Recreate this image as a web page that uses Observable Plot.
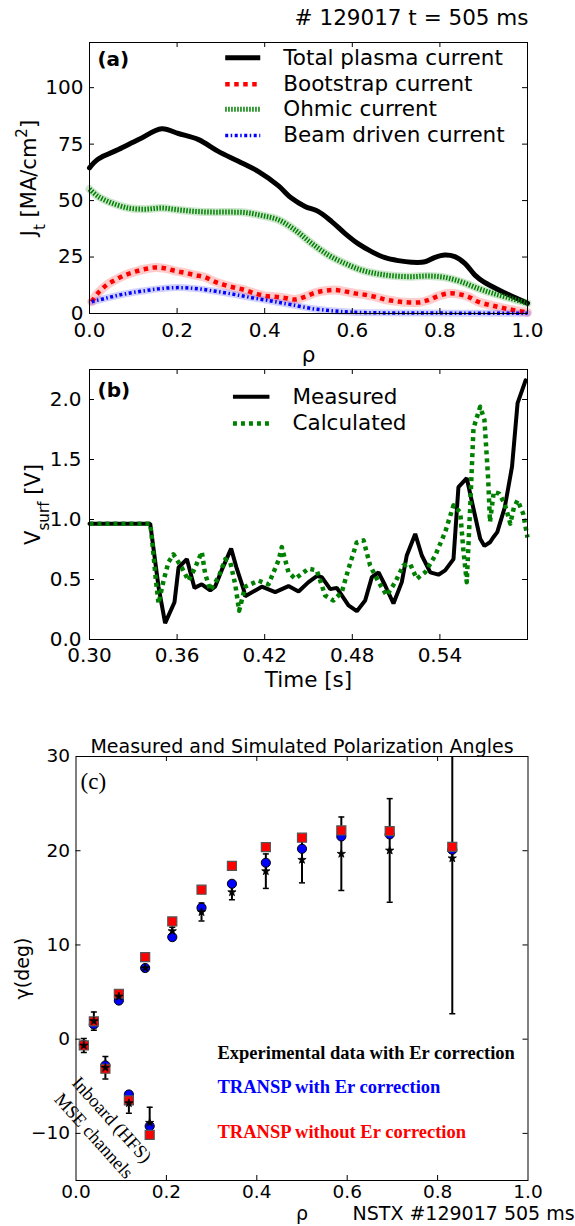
<!DOCTYPE html>
<html><head><meta charset="utf-8">
<script src="https://cdn.jsdelivr.net/npm/d3@7"></script>
<script src="https://cdn.jsdelivr.net/npm/@observablehq/plot@0.6"></script>
<style>
body{margin:0;background:#fff;}
#wrap{position:relative;width:575px;height:1226px;background:#fff;overflow:hidden;}
#wrap svg{position:absolute;left:0;}
</style></head><body><div id="wrap"></div>
<script>
// ---------- Panel (a): current density profiles ----------
const totalRho = [0.0,0.02,0.066,0.112,0.165,0.203,0.249,0.294,0.34,0.385,0.431,0.461,0.492,0.522,0.553,0.583,0.614,0.644,0.675,0.705,0.735,0.766,0.789,0.811,0.834,0.857,0.88,0.9,0.95,1.0];
const totalJ   = [64.5,68.4,72.6,77,81.8,79.7,77,71.8,67.4,62.9,56.6,51.1,47.4,45.2,40.7,35.5,30.8,27.4,24.7,23.4,22.7,22.9,24.9,25.9,25.2,22.2,17.0,14.0,9.0,4.5];
const bootRho = [0.005,0.02,0.039,0.058,0.081,0.104,0.127,0.15,0.172,0.195,0.218,0.241,0.264,0.287,0.309,0.332,0.355,0.378,0.401,0.424,0.446,0.469,0.492,0.515,0.538,0.56,0.583,0.606,0.629,0.652,0.675,0.697,0.72,0.751,0.773,0.796,0.819,0.842,0.865,0.887,0.92,0.96,1.0];
const bootJ   = [5.2,9.2,12.6,14.8,17,18.5,19.7,20.4,20,18.9,18,17,16,14,12.6,11.4,10.4,8.9,7.8,7.4,6.9,6.2,7.4,9.2,10.1,10.4,9.8,8.9,8.3,7.4,6.2,5.5,5.0,4.9,5.9,7.7,8.9,8.6,7.4,5.2,3.5,1.8,0.5];
const ohmRho = [0.0,0.02,0.051,0.089,0.127,0.165,0.203,0.241,0.279,0.317,0.355,0.393,0.431,0.469,0.507,0.545,0.583,0.621,0.659,0.697,0.735,0.773,0.811,0.849,0.887,0.92,0.96,1.0];
const ohmJ   = [55.1,51.8,48.9,46.7,46.2,46.7,45.9,45.2,44.9,44.9,44.7,43.4,41.5,37,31.1,25.9,22.2,19.2,17.5,16.6,16.3,16.6,16.0,14.0,11.1,9.0,6.8,4.5];
const beamRho = [0.005,0.036,0.066,0.096,0.127,0.157,0.188,0.218,0.249,0.279,0.309,0.34,0.37,0.401,0.429,0.461,0.507,0.553,0.598,0.659,0.75,0.85,1.0];
const beamJ   = [5.2,6.7,8.1,9.2,10.1,10.9,11.4,11.4,10.9,10.1,9.2,8.1,7.0,6.0,5.0,3.9,2.2,1.2,0.6,0.3,0.2,0.15,0.1];
const seriesA = ["Total plasma current","Bootstrap current","Ohmic current","Beam driven current"];
const xTicksA = [0,0.2,0.4,0.6,0.8,1.0];
const yTicksA = [0,25,50,75,100];

// ---------- Panel (b): surface voltage ----------
const measT = [0.30,0.3416,0.3473,0.3518,0.3582,0.361,0.3667,0.3719,0.3769,0.3827,0.386,0.3906,0.397,0.4009,0.4055,0.4066,0.418,0.4272,0.4363,0.4432,0.45,0.4557,0.4591,0.4649,0.4694,0.4774,0.4831,0.4888,0.4934,0.498,0.5025,0.5082,0.5139,0.5173,0.5231,0.5276,0.5334,0.539,0.5436,0.5493,0.5527,0.5584,0.563,0.5676,0.5705,0.5743,0.5765,0.5793,0.5844,0.5894,0.5932,0.5987];
const measV = [0.965,0.965,0.437,0.136,0.31,0.6,0.67,0.43,0.46,0.41,0.44,0.58,0.757,0.59,0.42,0.36,0.44,0.395,0.445,0.40,0.478,0.528,0.52,0.42,0.43,0.284,0.236,0.325,0.52,0.56,0.45,0.30,0.478,0.70,0.88,0.70,0.56,0.54,0.576,0.67,1.27,1.345,1.09,0.84,0.78,0.81,0.85,0.895,1.10,1.44,1.97,2.16];
const calcT = [0.30,0.3416,0.3427,0.3455,0.3473,0.3507,0.3541,0.3575,0.3632,0.3678,0.3724,0.3769,0.3792,0.3827,0.3884,0.393,0.3964,0.3998,0.4025,0.4066,0.4158,0.4226,0.4295,0.4317,0.4363,0.4409,0.45,0.4557,0.4614,0.4671,0.4728,0.4774,0.4831,0.4877,0.4922,0.498,0.5036,0.5094,0.515,0.5196,0.5241,0.5299,0.5368,0.5436,0.5493,0.5539,0.5562,0.5584,0.5607,0.563,0.5676,0.5705,0.5731,0.5743,0.5769,0.5806,0.5844,0.5882,0.5907,0.5932,0.597,0.60];
const calcV = [0.965,0.965,0.85,0.49,0.30,0.49,0.645,0.71,0.60,0.49,0.60,0.73,0.55,0.41,0.52,0.67,0.645,0.46,0.24,0.44,0.49,0.46,0.66,0.77,0.56,0.506,0.59,0.576,0.367,0.325,0.395,0.59,0.81,0.826,0.617,0.478,0.367,0.478,0.617,0.63,0.506,0.56,0.70,0.895,1.118,1.06,0.73,0.478,1.09,1.76,1.94,1.83,1.33,0.98,1.23,1.215,1.13,0.965,1.10,1.16,1.05,0.85];
const seriesB = ["Measured","Calculated"];
const xTicksB = [0.30,0.36,0.42,0.48,0.54];
const yTicksB = [0,0.5,1.0,1.5,2.0];

// ---------- Panel (c): MSE polarization angles ----------
const mseRho   = [0.0173,0.0395,0.065,0.0948,0.117,0.153,0.163,0.213,0.2777,0.345,0.42,0.50,0.587,0.694,0.8325];
const gammaExp = [-0.67,1.91,-3.03,4.53,-6.79,7.55,-8.87,11.47,13.49,15.6,17.83,19.04,19.68,20.03,19.2];
const gammaErr = [0.74,0.96,1.2,0.3,1.07,0.2,1.65,0.4,0.95,0.8,1.83,2.45,3.9,5.5,16.5];
const gammaEr  = [-0.6,1.56,-2.79,4.1,-5.87,7.55,-9.23,10.83,13.95,16.49,18.72,20.2,21.51,21.73,20.1];
const gammaNoEr= [-0.67,1.88,-3.14,4.82,-6.5,8.7,-10.15,12.49,15.86,18.4,20.38,21.38,22.15,22.08,20.4];
const seriesC = ["Experimental data with Er correction","TRANSP with Er correction","TRANSP without Er correction"];
const xTicksC = [0,0.2,0.4,0.6,0.8,1.0];
const yTicksC = [-10,0,10,20,30];

// ---------- helpers ----------
const pts = (xs, ys) => xs.map((x, i) => ({x, y: ys[i]}));
const SANS = "'DejaVu Sans', sans-serif";
const SERIF = "'Liberation Serif', 'Times New Roman', serif";
const baseStyle = fs => ({fontFamily: SANS, fontSize: fs + "px", color: "black", background: "transparent", overflow: "visible"});
function innerTicks(xt, yt, xd, yd, fw, fh, len = 5) {
  const xi = xt.filter(d => d > xd[0] + 1e-9 && d < xd[1] - 1e-9);
  const yi = yt.filter(d => d > yd[0] + 1e-9 && d < yd[1] - 1e-9);
  return [
    Plot.ruleX(xi, {x: d => d, insetTop: fh - len, stroke: "black"}),
    Plot.ruleX(xi, {x: d => d, insetBottom: fh - len, stroke: "black"}),
    Plot.ruleY(yi, {y: d => d, insetRight: fw - len, stroke: "black"}),
    Plot.ruleY(yi, {y: d => d, insetLeft: fw - len, stroke: "black"})
  ];
}
function rich(svg, plain, parts) {
  d3.select(svg).selectAll("text").filter(function() { return this.textContent === plain; }).each(function() {
    const t = d3.select(this); t.text(null);
    for (const [s, kind] of parts) {
      const ts = t.append("tspan").text(s);
      if (kind === "sub") ts.attr("baseline-shift", "sub").attr("font-size", "72%");
      if (kind === "sup") ts.attr("baseline-shift", "super").attr("font-size", "72%");
    }
  });
}
const wrap = document.getElementById("wrap");
function place(svg, top) { svg.style.top = top + "px"; wrap.appendChild(svg); }

// ---------- Panel (a) ----------
{
  const W = 575, H = 360, mt = 42, mb = 47, ml = 89, mr = 48;
  const xd = [0, 1], yd = [0, 120];
  const total = pts(totalRho, totalJ), boot = pts(bootRho, bootJ), ohm = pts(ohmRho, ohmJ), beam = pts(beamRho, beamJ);
  const legStyles = [
    {stroke: "black", strokeWidth: 5},
    {stroke: "#ff0000", strokeWidth: 4.5, strokeDasharray: "4.5,4.5", strokeLinecap: "butt"},
    {stroke: "#008000", strokeWidth: 5, strokeDasharray: "1.5,1.5", strokeLinecap: "butt"},
    {stroke: "#0000ff", strokeWidth: 3.5, strokeDasharray: "3,2.5,1.5,2.5", strokeLinecap: "butt"}
  ];
  const legY = [113.3, 101.5, 90.4, 78.8];
  const c = "catmull-rom";
  const svg = Plot.plot({
    width: W, height: H, marginTop: mt, marginBottom: mb, marginLeft: ml, marginRight: mr,
    x: {domain: xd}, y: {domain: yd},
    style: baseStyle(20),
    marks: [
      Plot.line(ohm, {x: "x", y: "y", stroke: "#008000", strokeOpacity: 0.2, strokeWidth: 8, curve: c}),
      Plot.line(boot, {x: "x", y: "y", stroke: "#ff0000", strokeOpacity: 0.2, strokeWidth: 9, curve: c}),
      Plot.line(beam, {x: "x", y: "y", stroke: "#0000ff", strokeOpacity: 0.18, strokeWidth: 7, curve: c}),
      Plot.line(total, {x: "x", y: "y", ...legStyles[0], curve: c}),
      Plot.line(boot, {x: "x", y: "y", ...legStyles[1], curve: c}),
      Plot.line(ohm, {x: "x", y: "y", ...legStyles[2], curve: c}),
      Plot.line(beam, {x: "x", y: "y", ...legStyles[3], curve: c}),
      Plot.frame({stroke: "black"}),
      ...innerTicks(xTicksA, yTicksA, xd, yd, W - ml - mr, H - mt - mb),
      Plot.axisX({ticks: xTicksA, tickSize: 0, tickPadding: 9, tickFormat: d3.format(".1f"), label: null, fontSize: 20}),
      Plot.axisY({ticks: yTicksA, tickSize: 0, tickPadding: 6, tickFormat: d3.format("d"), label: null, fontSize: 20}),
      ...seriesA.map((s, i) => Plot.ruleY([legY[i]], {x1: 0.311, x2: 0.391, ...legStyles[i]})),
      Plot.text(seriesA, {x: () => 0.4425, y: (d, i) => legY[i], textAnchor: "start", lineAnchor: "middle", fontSize: 21.5}),
      Plot.text(["(a)"], {x: () => 0.018, y: () => 112.6, textAnchor: "start", lineAnchor: "middle", fontSize: 20, fontWeight: "bold"}),
      Plot.text(["# 129017 t = 505 ms"], {frameAnchor: "top-right", dx: 1, dy: -24, textAnchor: "end", lineAnchor: "middle", fontSize: 21.5}),
      Plot.text(["ρ"], {frameAnchor: "bottom", dy: 42, lineAnchor: "middle", fontSize: 21.5}),
      Plot.text(["Jt [MA/cm2]"], {frameAnchor: "left", dx: -60, rotate: -90, lineAnchor: "middle", textAnchor: "middle", fontSize: 21})
    ]
  });
  rich(svg, "Jt [MA/cm2]", [["J"], ["t", "sub"], [" [MA/cm"], ["2", "sup"], ["]"]]);
  place(svg, 0);
}

// ---------- Panel (b) ----------
{
  const W = 575, H = 340, mt = 9, mb = 61, ml = 89, mr = 48;
  const xd = [0.30, 0.60], yd = [0, 2.25];
  const meas = pts(measT, measV), calc = pts(calcT, calcV);
  const legStyles = [
    {stroke: "black", strokeWidth: 4},
    {stroke: "#008000", strokeWidth: 4.5, strokeDasharray: "4,4", strokeLinecap: "butt"}
  ];
  const legY = [2.022, 1.80];
  const svg = Plot.plot({
    width: W, height: H, marginTop: mt, marginBottom: mb, marginLeft: ml, marginRight: mr,
    x: {domain: xd}, y: {domain: yd},
    style: baseStyle(20),
    marks: [
      Plot.line(meas, {x: "x", y: "y", ...legStyles[0], strokeLinejoin: "miter"}),
      Plot.line(calc, {x: "x", y: "y", ...legStyles[1]}),
      Plot.frame({stroke: "black"}),
      ...innerTicks(xTicksB, yTicksB, xd, yd, W - ml - mr, H - mt - mb),
      Plot.axisX({ticks: xTicksB, tickSize: 0, tickPadding: 8, tickFormat: d3.format(".2f"), label: null, fontSize: 20}),
      Plot.axisY({ticks: yTicksB, tickSize: 0, tickPadding: 8, tickFormat: d3.format(".1f"), label: null, fontSize: 20}),
      ...seriesB.map((s, i) => Plot.ruleY([legY[i]], {x1: 0.3986, x2: 0.4236, ...legStyles[i]})),
      Plot.text(seriesB, {x: () => 0.439, y: (d, i) => legY[i], textAnchor: "start", lineAnchor: "middle", fontSize: 21.5}),
      Plot.text(["(b)"], {x: () => 0.3055, y: () => 2.078, textAnchor: "start", lineAnchor: "middle", fontSize: 20, fontWeight: "bold"}),
      Plot.text(["Time [s]"], {frameAnchor: "bottom", dy: 41, lineAnchor: "middle", fontSize: 21.5}),
      Plot.text(["Vsurf [V]"], {frameAnchor: "left", dx: -56, rotate: -90, lineAnchor: "middle", textAnchor: "middle", fontSize: 21})
    ]
  });
  rich(svg, "Vsurf [V]", [["V"], ["surf", "sub"], [" [V]"]]);
  place(svg, 360);
}

// ---------- Panel (c) ----------
{
  const W = 575, H = 526, mt = 56, mb = 46, ml = 75.5, mr = 47.5;
  const xd = [0, 1], yd = [-15, 30];
  const ch = mseRho.map((r, i) => ({rho: r, exp: gammaExp[i], lo: gammaExp[i] - gammaErr[i], hi: gammaExp[i] + gammaErr[i], er: gammaEr[i], noer: gammaNoEr[i]}));
  const cap = {draw(ctx) { ctx.moveTo(-3, 0); ctx.lineTo(3, 0); }};
  const svg = Plot.plot({
    width: W, height: H, marginTop: mt, marginBottom: mb, marginLeft: ml, marginRight: mr,
    x: {domain: xd}, y: {domain: yd},
    style: baseStyle(18.5),
    marks: [
      Plot.ruleX(ch, {x: "rho", y1: "lo", y2: "hi", stroke: "black", strokeWidth: 2, clip: true}),
      Plot.dot(ch, {x: "rho", y: "lo", symbol: cap, fill: "none", stroke: "black", strokeWidth: 1.5, clip: true}),
      Plot.dot(ch, {x: "rho", y: "hi", symbol: cap, fill: "none", stroke: "black", strokeWidth: 1.5, clip: true}),
      Plot.dot(ch, {x: "rho", y: "er", symbol: "circle", r: 4.6, fill: "#0000ff", stroke: "black", strokeWidth: 1}),
      Plot.dot(ch, {x: "rho", y: "noer", symbol: "square", r: 5.1, fill: "#ff0000", stroke: "#555", strokeWidth: 1.2}),
      Plot.dot(ch, {x: "rho", y: "exp", symbol: "star", r: 2.6, fill: "black", stroke: "black", strokeWidth: 0.8}),
      Plot.frame({stroke: "black"}),
      ...innerTicks(xTicksC, yTicksC, xd, yd, W - ml - mr, H - mt - mb),
      Plot.axisX({ticks: xTicksC, tickSize: 0, tickPadding: 4, tickFormat: d3.format(".1f"), label: null, fontSize: 18.5}),
      Plot.axisY({ticks: yTicksC, tickSize: 0, tickPadding: 6, tickFormat: d3.format("d"), label: null, fontSize: 18.5}),
      Plot.text(["Measured and Simulated Polarization Angles"], {frameAnchor: "top", dy: -10, lineAnchor: "middle", fontSize: 19}),
      Plot.text(["ρ"], {frameAnchor: "bottom", dy: 33, lineAnchor: "middle", fontSize: 19}),
      Plot.text(["NSTX #129017 505 ms"], {frameAnchor: "bottom-left", dx: 276.5, dy: 33, textAnchor: "start", lineAnchor: "middle", fontSize: 19}),
      Plot.text(["γ(deg)"], {frameAnchor: "left", dx: -53, rotate: -90, lineAnchor: "middle", textAnchor: "middle", fontSize: 19}),
      Plot.text(["(c)"], {x: () => 0.01, y: () => 27.35, textAnchor: "start", lineAnchor: "middle", fontSize: 23, fontFamily: SERIF}),
      Plot.text(seriesC, {x: () => 0.313, y: (d, i) => [-1.52, -5.09, -9.87][i], fill: (d, i) => ["black", "#0000ff", "#ff0000"][i], textAnchor: "start", lineAnchor: "middle", fontSize: 18.5, fontWeight: "bold", fontFamily: SERIF}),
      Plot.text(["Inboard (HFS)\nMSE channels"], {x: () => 0.062, y: () => -9.29, rotate: 48, textAnchor: "middle", lineAnchor: "middle", lineHeight: 1.3, fontSize: 18.5, fontFamily: SERIF})
    ]
  });
  place(svg, 700);
}
</script></body></html>
